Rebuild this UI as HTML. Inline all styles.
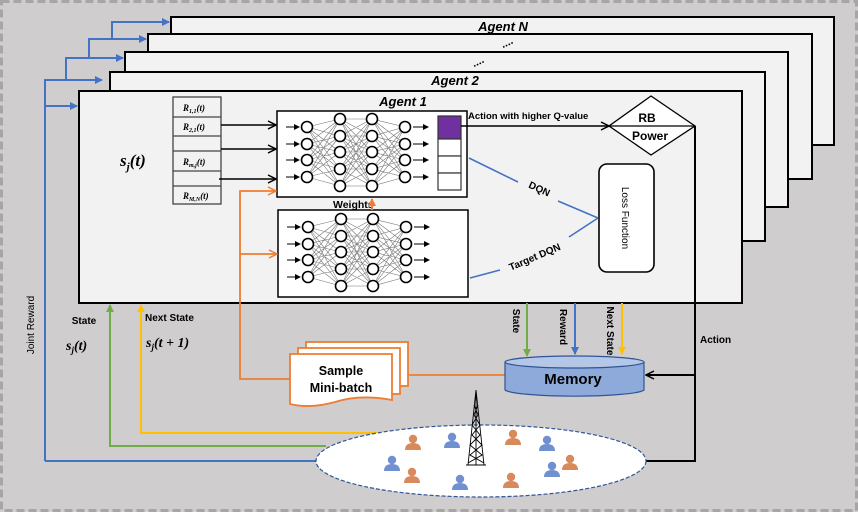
<!DOCTYPE html>
<html><head><meta charset="utf-8"><style>
html,body{margin:0;padding:0;background:#cfcdce;}
svg{display:block;}
text{font-family:"Liberation Sans",sans-serif;}
.m{font-family:"Liberation Serif",serif;font-style:italic;font-weight:bold;}
</style></head><body>
<svg width="858" height="512" viewBox="0 0 858 512" xmlns="http://www.w3.org/2000/svg">
<defs>
<marker id="ab" markerWidth="8" markerHeight="8" refX="7" refY="4" orient="auto" markerUnits="userSpaceOnUse"><path d="M0 0L8 4L0 8z" fill="#4472c4"/></marker>
<marker id="ak" markerWidth="10" markerHeight="10" refX="9" refY="5" orient="auto" markerUnits="userSpaceOnUse"><path d="M1 1L9 5L1 9" fill="none" stroke="#000" stroke-width="1.5"/></marker>
<marker id="ao" markerWidth="10" markerHeight="10" refX="9" refY="5" orient="auto" markerUnits="userSpaceOnUse"><path d="M1 1L9 5L1 9" fill="none" stroke="#ed7d31" stroke-width="1.5"/></marker>
<marker id="aof" markerWidth="8" markerHeight="8" refX="7" refY="4" orient="auto" markerUnits="userSpaceOnUse"><path d="M0 0L8 4L0 8z" fill="#ed7d31"/></marker>
<marker id="ag" markerWidth="8" markerHeight="8" refX="7" refY="4" orient="auto" markerUnits="userSpaceOnUse"><path d="M0 0L8 4L0 8z" fill="#70ad47"/></marker>
<marker id="ay" markerWidth="8" markerHeight="8" refX="7" refY="4" orient="auto" markerUnits="userSpaceOnUse"><path d="M0 0L8 4L0 8z" fill="#ffc000"/></marker>
<marker id="as" markerWidth="6" markerHeight="6" refX="5" refY="3" orient="auto" markerUnits="userSpaceOnUse"><path d="M0 0L6 3L0 6z" fill="#000"/></marker>
<g id="net">
<path fill="none" stroke="#777" stroke-width="0.6" d="M307 127L340 119M307 127L340 136M307 127L340 152M307 127L340 169M307 127L340 186M307 144L340 119M307 144L340 136M307 144L340 152M307 144L340 169M307 144L340 186M307 160L340 119M307 160L340 136M307 160L340 152M307 160L340 169M307 160L340 186M307 177L340 119M307 177L340 136M307 177L340 152M307 177L340 169M307 177L340 186
M340 119L372 119M340 119L372 136M340 119L372 152M340 119L372 169M340 119L372 186M340 136L372 119M340 136L372 136M340 136L372 152M340 136L372 169M340 136L372 186M340 152L372 119M340 152L372 136M340 152L372 152M340 152L372 169M340 152L372 186M340 169L372 119M340 169L372 136M340 169L372 152M340 169L372 169M340 169L372 186M340 186L372 119M340 186L372 136M340 186L372 152M340 186L372 169M340 186L372 186
M372 119L405 127M372 136L405 127M372 152L405 127M372 169L405 127M372 186L405 127M372 119L405 144M372 136L405 144M372 152L405 144M372 169L405 144M372 186L405 144M372 119L405 160M372 136L405 160M372 152L405 160M372 169L405 160M372 186L405 160M372 119L405 177M372 136L405 177M372 152L405 177M372 169L405 177M372 186L405 177"/>
<g stroke="#000" stroke-width="1" marker-end="url(#as)">
<path d="M286 127H299"/><path d="M286 144H299"/><path d="M286 160H299"/><path d="M286 177H299"/>
<path d="M413 127H428"/><path d="M413 144H428"/><path d="M413 160H428"/><path d="M413 177H428"/>
</g>
<g fill="#fff" stroke="#000" stroke-width="1.6">
<circle cx="307" cy="127" r="5.5"/><circle cx="307" cy="144" r="5.5"/><circle cx="307" cy="160" r="5.5"/><circle cx="307" cy="177" r="5.5"/>
<circle cx="340" cy="119" r="5.5"/><circle cx="340" cy="136" r="5.5"/><circle cx="340" cy="152" r="5.5"/><circle cx="340" cy="169" r="5.5"/><circle cx="340" cy="186" r="5.5"/>
<circle cx="372" cy="119" r="5.5"/><circle cx="372" cy="136" r="5.5"/><circle cx="372" cy="152" r="5.5"/><circle cx="372" cy="169" r="5.5"/><circle cx="372" cy="186" r="5.5"/>
<circle cx="405" cy="127" r="5.5"/><circle cx="405" cy="144" r="5.5"/><circle cx="405" cy="160" r="5.5"/><circle cx="405" cy="177" r="5.5"/>
</g>
</g>
<g id="pb"><circle cx="0" cy="-5" r="4.2"/><path d="M-8 6Q-8 -1 0 -1Q8 -1 8 6z"/></g>
</defs>

<rect x="1.5" y="1.5" width="855" height="509" fill="#cfcdce" stroke="#a6a6a6" stroke-width="3" stroke-dasharray="8 4"/>

<rect x="171" y="17" width="663" height="128" fill="#f2f2f2" stroke="#000" stroke-width="2"/>
<rect x="148" y="34" width="664" height="145" fill="#f2f2f2" stroke="#000" stroke-width="2"/>
<rect x="125" y="52" width="663" height="155" fill="#f2f2f2" stroke="#000" stroke-width="2"/>
<rect x="110" y="72" width="655" height="169" fill="#f2f2f2" stroke="#000" stroke-width="2"/>
<rect x="79" y="91" width="663" height="212" fill="#f2f2f2" stroke="#000" stroke-width="2"/>
<text x="503" y="31" font-size="13" font-weight="bold" font-style="italic" text-anchor="middle">Agent N</text>
<text x="507" y="46" font-size="11" font-weight="bold" text-anchor="middle" transform="rotate(-25 507 43)">....</text>
<text x="478" y="65" font-size="11" font-weight="bold" text-anchor="middle" transform="rotate(-25 478 62)">....</text>
<text x="455" y="85" font-size="13" font-weight="bold" font-style="italic" text-anchor="middle">Agent 2</text>
<text x="403" y="106" font-size="13" font-weight="bold" font-style="italic" text-anchor="middle">Agent 1</text>

<g fill="none" stroke="#4472c4" stroke-width="2">
<path d="M45 461V80H102" marker-end="url(#ab)"/>
<path d="M45 106H77" marker-end="url(#ab)"/>
<path d="M66 80V58H123" marker-end="url(#ab)"/>
<path d="M89 58V39H146" marker-end="url(#ab)"/>
<path d="M112 39V22H169" marker-end="url(#ab)"/>
<path d="M45 461H316"/>
</g>

<g fill="#f2f2f2" stroke="#444" stroke-width="1.3">
<rect x="173" y="97" width="48" height="107"/>
<path d="M173 117H221M173 136H221M173 151H221M173 171H221M173 186H221"/>
</g>
<g font-size="9" class="m">
<text x="183" y="111" class="m">R<tspan font-size="6" dy="2">1,1</tspan><tspan dy="-2">(t)</tspan></text>
<text x="183" y="130" class="m">R<tspan font-size="6" dy="2">2,1</tspan><tspan dy="-2">(t)</tspan></text>
<text x="183" y="165" class="m">R<tspan font-size="6" dy="2">m,j</tspan><tspan dy="-2">(t)</tspan></text>
<text x="183" y="199" class="m">R<tspan font-size="6" dy="2">M,N</tspan><tspan dy="-2">(t)</tspan></text>
</g>
<text x="120" y="166" font-size="17" class="m">s<tspan font-size="11" dy="4">j</tspan><tspan dy="-4">(t)</tspan></text>

<g stroke="#000" stroke-width="1.6" fill="none" marker-end="url(#ak)">
<path d="M221 125H276"/><path d="M221 149H276"/><path d="M219 179H276"/>
</g>

<rect x="277" y="111" width="190" height="86" fill="#fff" stroke="#000" stroke-width="1.5"/>
<rect x="278" y="210" width="190" height="87" fill="#fff" stroke="#000" stroke-width="1.5"/>
<use href="#net"/>
<use href="#net" transform="translate(1 100)"/>
<rect x="438" y="116" width="23" height="23" fill="#7030a0" stroke="#333" stroke-width="1.2"/>
<rect x="438" y="139" width="23" height="17" fill="#fff" stroke="#333" stroke-width="1.2"/>
<rect x="438" y="156" width="23" height="17" fill="#fff" stroke="#333" stroke-width="1.2"/>
<rect x="438" y="173" width="23" height="17" fill="#fff" stroke="#333" stroke-width="1.2"/>
<text x="333" y="208" font-size="10.5" font-weight="bold">Weights</text>
<path d="M372 210V199" stroke="#ed7d31" stroke-width="2" marker-end="url(#aof)"/>

<g fill="none" stroke="#ed7d31" stroke-width="1.8">
<path d="M290 379H240V191H276" marker-end="url(#ao)"/>
<path d="M240 254H277" marker-end="url(#ao)"/>
<path d="M409 375H505"/>
</g>

<text x="468" y="119" font-size="9.5" font-weight="bold">Action with higher Q-value</text>
<path d="M461 126H609" stroke="#000" stroke-width="1.5" marker-end="url(#ak)"/>
<path d="M651 96L695 126L651 155L609 126z" fill="#fff" stroke="#000" stroke-width="1.3"/>
<path d="M609 126H695" stroke="#000" stroke-width="1.3"/>
<text x="647" y="122" font-size="12" font-weight="bold" text-anchor="middle">RB</text>
<text x="650" y="140" font-size="12" font-weight="bold" text-anchor="middle">Power</text>
<path d="M695 126V461H645" fill="none" stroke="#000" stroke-width="2"/>
<path d="M695 375H646" stroke="#000" stroke-width="2" marker-end="url(#ak)"/>
<text x="700" y="343" font-size="10" font-weight="bold">Action</text>

<rect x="599" y="164" width="55" height="108" rx="8" fill="#fff" stroke="#000" stroke-width="1.6"/>
<text transform="translate(622 218) rotate(90)" font-size="10" text-anchor="middle">Loss Function</text>
<g stroke="#4472c4" stroke-width="1.6" fill="none">
<path d="M469 158L518 182"/><path d="M558 201L598 218"/>
<path d="M598 218L569 237"/><path d="M500 270L470 278"/>
</g>
<text transform="translate(538 192) rotate(25)" font-size="10" font-weight="bold" text-anchor="middle">DQN</text>
<text transform="translate(536 260) rotate(-23)" font-size="10" font-weight="bold" text-anchor="middle">Target DQN</text>

<path d="M505 362V390A70 7 0 0 0 644 390V362" fill="#8eaadb" stroke="#2f5597" stroke-width="1.2"/>
<ellipse cx="574.5" cy="362" rx="69.5" ry="6" fill="#b4c7e7" stroke="#2f5597" stroke-width="1.2"/>
<text x="573" y="384" font-size="15" font-weight="bold" text-anchor="middle">Memory</text>
<path d="M527 303V356" stroke="#70ad47" stroke-width="2" marker-end="url(#ag)"/>
<path d="M575 303V354" stroke="#4472c4" stroke-width="2" marker-end="url(#ab)"/>
<path d="M622 303V354" stroke="#ffc000" stroke-width="2" marker-end="url(#ay)"/>
<text transform="translate(513 321) rotate(90)" font-size="10" font-weight="bold" text-anchor="middle">State</text>
<text transform="translate(560 327) rotate(90)" font-size="10" font-weight="bold" text-anchor="middle">Reward</text>
<text transform="translate(607 331) rotate(90)" font-size="10" font-weight="bold" text-anchor="middle">Next State</text>

<g fill="#fff" stroke="#ed7d31" stroke-width="1.8">
<rect x="306" y="342" width="102" height="44"/>
<rect x="298" y="348" width="102" height="46"/>
<path d="M290 354H392V400Q360 394 335 402Q310 409 290 404z"/>
</g>
<text x="341" y="375" font-size="12.5" font-weight="bold" text-anchor="middle">Sample</text>
<text x="341" y="392" font-size="12.5" font-weight="bold" text-anchor="middle">Mini-batch</text>

<path d="M377 433H141V305" fill="none" stroke="#ffc000" stroke-width="2" marker-end="url(#ay)"/>
<path d="M326 446H110V305" fill="none" stroke="#70ad47" stroke-width="2" marker-end="url(#ag)"/>
<text x="84" y="324" font-size="10" font-weight="bold" text-anchor="middle">State</text>
<text x="66" y="350" font-size="14" class="m">s<tspan font-size="9" dy="3">j</tspan><tspan dy="-3">(t)</tspan></text>
<text x="145" y="321" font-size="10" font-weight="bold">Next State</text>
<text x="146" y="347" font-size="14" class="m">s<tspan font-size="9" dy="3">j</tspan><tspan dy="-3">(t + 1)</tspan></text>
<text transform="translate(34 325) rotate(-90)" font-size="10" text-anchor="middle">Joint Reward</text>

<ellipse cx="481" cy="461" rx="165" ry="36" fill="#fff" stroke="#2f5597" stroke-width="1.2" stroke-dasharray="4 2"/>
<g stroke="#000" stroke-width="0.9" fill="none">
<path d="M476 390L468 465M476 390L484 465M476 390V465M466 465H486"/>
<path d="M474 405L478 415L472 425L480 435L470 445L482 455L468 463M478 405L474 415L480 425L472 435L482 445L470 455L484 463"/>
</g>
<g fill="#7090d0">
<use href="#pb" x="392" y="465"/><use href="#pb" x="452" y="442"/><use href="#pb" x="547" y="445"/>
<use href="#pb" x="460" y="484"/><use href="#pb" x="552" y="471"/>
</g>
<g fill="#d98a5c">
<use href="#pb" x="413" y="444"/><use href="#pb" x="412" y="477"/><use href="#pb" x="513" y="439"/>
<use href="#pb" x="570" y="464"/><use href="#pb" x="511" y="482"/>
</g>
</svg>
</body></html>
